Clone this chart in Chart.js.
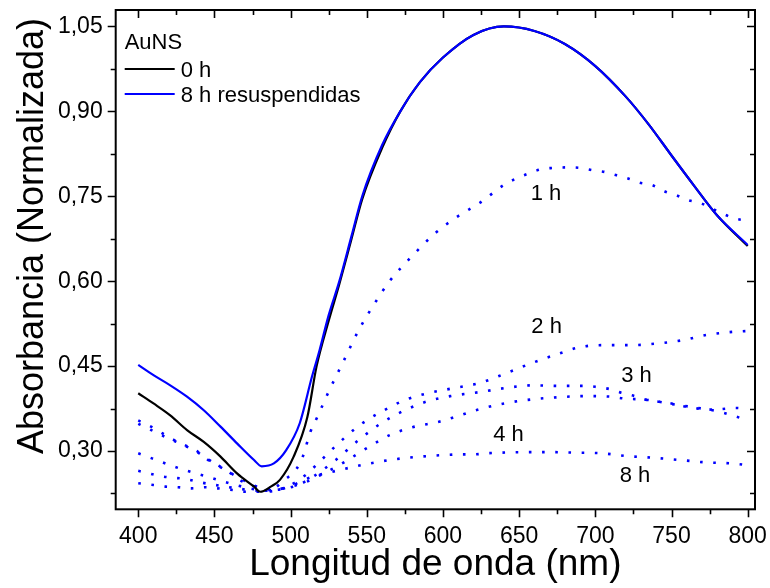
<!DOCTYPE html>
<html><head><meta charset="utf-8">
<script src="https://cdn.jsdelivr.net/npm/chart.js@4.4.0/dist/chart.umd.min.js"></script>
<style>html,body{margin:0;padding:0;background:#fff}</style>
</head><body>
<canvas id="c" width="770" height="588"></canvas>
<script>
// ---- data ----
const wl0h = [400,410,421,432,443,454,465,476,480,487,493,502,511,517,525,532,540,547,560,572,585,600,620,640,660,680,700,720,735,750,765,780,800];
const abs0h = [0.402,0.384,0.363,0.337,0.316,0.290,0.260,0.237,0.228,0.237,0.249,0.290,0.360,0.449,0.530,0.595,0.675,0.745,0.835,0.900,0.952,0.995,1.035,1.050,1.042,1.019,0.980,0.926,0.877,0.822,0.768,0.716,0.662];

const wlRes = [400,410,421,432,443,454,465,476,481,489,497,506,514,519,525,532,540,547,560,572,585,600,620,640,660,680,700,720,735,750,765,780,800];
const absRes = [0.452,0.434,0.416,0.396,0.372,0.343,0.313,0.284,0.273,0.278,0.301,0.349,0.431,0.478,0.540,0.600,0.680,0.750,0.840,0.900,0.952,0.995,1.035,1.050,1.042,1.019,0.980,0.926,0.877,0.822,0.768,0.716,0.664];

const wl1h = [400,409,416,423,431,439,446,454,461,469,477,485,497,504,508,513,517,525,535,545,555,565,580,595,610,624,631,640,647,656,665,672,681,690,698,706,714,722,729,737,746,753,761,769,776,783,791,800];
const abs1h = [0.354,0.342,0.331,0.320,0.310,0.299,0.284,0.272,0.260,0.245,0.237,0.230,0.251,0.269,0.290,0.334,0.357,0.405,0.460,0.515,0.560,0.600,0.645,0.685,0.715,0.738,0.752,0.770,0.780,0.790,0.798,0.800,0.801,0.800,0.796,0.793,0.787,0.781,0.774,0.770,0.758,0.752,0.743,0.738,0.729,0.720,0.711,0.707];

const wl2h = [400,410,420,430,440,450,460,470,480,490,500,510,519,530,545,560,575,590,605,624,642,658,675,691,707,724,741,758,773,788,800];
const abs2h = [0.348,0.335,0.322,0.310,0.296,0.278,0.262,0.247,0.235,0.232,0.240,0.258,0.281,0.310,0.345,0.370,0.390,0.402,0.410,0.420,0.438,0.455,0.471,0.484,0.487,0.487,0.490,0.496,0.505,0.510,0.512];

const wl3h = [400,409,424,432,445,460,475,485,495,505,515,530,545,560,575,590,605,624,643,659,676,693,701,710,717,726,734,742,750,758,765,773,782,792,800];
const abs3h = [0.296,0.287,0.272,0.265,0.255,0.243,0.233,0.230,0.233,0.240,0.255,0.285,0.320,0.350,0.372,0.388,0.397,0.404,0.412,0.416,0.415,0.415,0.413,0.409,0.403,0.397,0.390,0.387,0.384,0.379,0.376,0.373,0.374,0.376,0.374];

const wl4h = [400,416,432,440,455,470,480,490,500,510,520,535,550,565,580,598,610,624,642,658,676,693,710,718,735,750,765,782,798];
const abs4h = [0.265,0.255,0.250,0.245,0.238,0.232,0.230,0.232,0.237,0.245,0.258,0.280,0.305,0.328,0.342,0.352,0.362,0.374,0.385,0.391,0.395,0.397,0.396,0.393,0.390,0.383,0.377,0.369,0.356];

const wl8h = [400,410,418,426,435,444,452,462,471,480,490,502,508,515,530,550,570,590,602,611,620,629,637,654,670,688,704,721,738,756,772,790,800];
const abs8h = [0.243,0.240,0.237,0.236,0.234,0.236,0.234,0.231,0.228,0.228,0.230,0.240,0.248,0.255,0.265,0.277,0.286,0.291,0.293,0.294,0.294,0.296,0.297,0.298,0.298,0.297,0.296,0.291,0.288,0.284,0.280,0.278,0.275];

const seriesLabels = ['0 h','8 h resuspendidas','1 h','2 h','3 h','4 h','8 h'];
const legendTitle = 'AuNS';
const xTitle = 'Longitud de onda (nm)';
const yTitle = 'Absorbancia (Normalizada)';

// ---- build ----
const pts = (xs, ys) => xs.map((x, i) => ({x, y: ys[i]}));
const FONT = "'Liberation Sans', Arial, sans-serif";
Chart.defaults.font.family = FONT;
Chart.defaults.color = '#000';

const BLUE = '#0000ff';
const solid = (label, xs, ys, color, order) => ({label, data: pts(xs, ys), borderColor: color, borderWidth: 2.2, pointRadius: 0, order, fill: false, cubicInterpolationMode: 'monotone', inLegend: true});
const dotted = (label, xs, ys) => ({label, data: pts(xs, ys), borderColor: BLUE, borderWidth: 2.6, borderDash: [2.6, 10.6], pointRadius: 0, order: 2, fill: false, cubicInterpolationMode: 'monotone', inLegend: false});

const datasets = [
  solid(seriesLabels[0], wl0h, abs0h, '#000000', 1),
  solid(seriesLabels[1], wlRes, absRes, BLUE, 0),
  dotted(seriesLabels[2], wl1h, abs1h),
  dotted(seriesLabels[3], wl2h, abs2h),
  dotted(seriesLabels[4], wl3h, abs3h),
  dotted(seriesLabels[5], wl4h, abs4h),
  dotted(seriesLabels[6], wl8h, abs8h)
];

const isMajor = (v, step) => { const k = v / step; return Math.abs(k - Math.round(k)) < 1e-6; };

const framePlugin = {
  id: 'frame',
  afterDatasetsDraw(chart) {
    const {ctx, chartArea: a, scales: {x, y}} = chart;
    const opt = chart.options.plugins.frame;
    ctx.save();
    ctx.strokeStyle = '#000';
    ctx.lineWidth = 1.6;
    x.ticks.forEach(t => {
      const px = Math.round(x.getPixelForValue(t.value)) + 0.5;
      const L = isMajor(t.value, 50) ? 8 : 5;
      ctx.beginPath();
      ctx.moveTo(px, a.bottom); ctx.lineTo(px, a.bottom + L);
      ctx.moveTo(px, a.top); ctx.lineTo(px, a.top + L);
      ctx.stroke();
    });
    y.ticks.forEach(t => {
      const py = Math.round(y.getPixelForValue(t.value)) + 0.5;
      const L = isMajor(t.value, 0.15) ? 8 : 5;
      ctx.beginPath();
      ctx.moveTo(a.left, py); ctx.lineTo(a.left - L, py);
      ctx.moveTo(a.right, py); ctx.lineTo(a.right - L, py);
      ctx.stroke();
    });
    ctx.lineWidth = 2;
    ctx.strokeRect(a.left, a.top, a.right - a.left, a.bottom - a.top);

    // y-axis title
    ctx.fillStyle = '#000';
    ctx.save();
    ctx.translate(opt.yTitle.x, opt.yTitle.y);
    ctx.rotate(-Math.PI / 2);
    ctx.font = `${opt.yTitle.size}px ${FONT}`;
    ctx.textAlign = 'center';
    ctx.textBaseline = 'middle';
    ctx.fillText(yTitle, 0, 0);
    ctx.restore();

    // legend
    const lg = opt.legend;
    ctx.font = `22px ${FONT}`;
    ctx.textBaseline = 'alphabetic';
    ctx.textAlign = 'left';
    ctx.fillText(legendTitle, a.left + lg.dx, a.top + lg.titleBase);
    let row = 0;
    chart.data.datasets.forEach(ds => {
      if (!ds.inLegend) return;
      const yy = a.top + lg.firstLine + row * lg.rowGap;
      ctx.strokeStyle = ds.borderColor;
      ctx.lineWidth = ds.borderWidth;
      ctx.beginPath();
      ctx.moveTo(a.left + lg.dx, yy); ctx.lineTo(a.left + lg.dx + lg.len, yy);
      ctx.stroke();
      ctx.fillText(ds.label, a.left + lg.dx + lg.len + 6, yy + 8);
      row++;
    });

    // curve tags
    ctx.textAlign = 'center';
    ctx.textBaseline = 'middle';
    opt.tags.forEach(tg => {
      ctx.fillText(tg.t, x.getPixelForValue(tg.x), y.getPixelForValue(tg.y));
    });
    ctx.restore();
  }
};

new Chart(document.getElementById('c'), {
  type: 'line',
  data: {datasets},
  plugins: [framePlugin],
  options: {
    responsive: false,
    animation: false,
    devicePixelRatio: 1,
    layout: {padding: {left: 0, right: 15, top: 10, bottom: 0}},
    plugins: {
      legend: {display: false},
      tooltip: {enabled: false},
      frame: {
        yTitle: {x: 33, y: 236, size: 36},
        legend: {dx: 9, titleBase: 39, firstLine: 59, rowGap: 25, len: 50},
        tags: [
          {t: '1 h', x: 667.6, y: 0.754},
          {t: '2 h', x: 668, y: 0.519},
          {t: '3 h', x: 727, y: 0.432},
          {t: '4 h', x: 643, y: 0.329},
          {t: '8 h', x: 726, y: 0.256}
        ]
      }
    },
    scales: {
      x: {
        type: 'linear', min: 385.2, max: 804.8,
        afterFit(s) { s.height = 78.7; s.paddingLeft = 0; s.paddingRight = 0; },
        grid: {display: false, drawTicks: false},
        border: {display: false},
        ticks: {stepSize: 25, includeBounds: false, autoSkip: false, maxRotation: 0, padding: 14,
          font: {size: 23}, callback: v => isMajor(v, 50) ? String(Math.round(v)) : ''},
        title: {display: true, text: xTitle, font: {size: 37}, padding: {top: 0, bottom: 1}}
      },
      y: {
        type: 'linear', min: 0.197, max: 1.079,
        afterFit(s) { s.width = 115.7; s.paddingTop = 0; s.paddingBottom = 0; },
        grid: {display: false, drawTicks: false},
        border: {display: false},
        ticks: {stepSize: 0.075, includeBounds: false, autoSkip: false, padding: 13,
          font: {size: 23}, callback: v => isMajor(v, 0.15) ? v.toFixed(2).replace('.', ',') : ''},
        title: {display: false}
      }
    }
  }
});
</script>
</body></html>
